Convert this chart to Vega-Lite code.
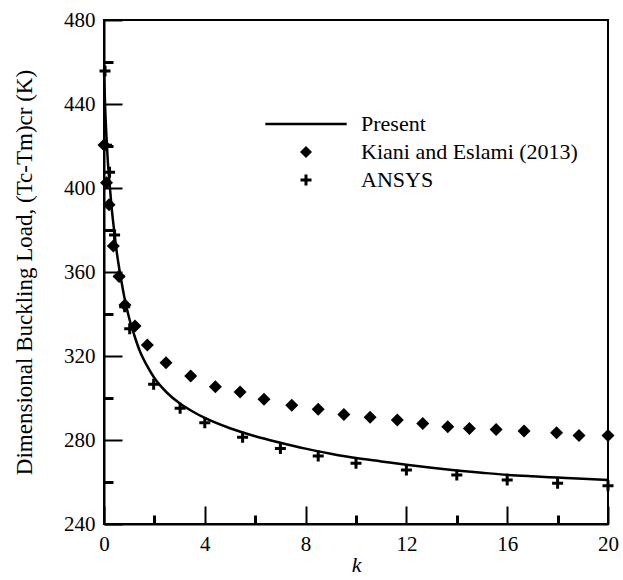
{
  "$schema": "https://vega.github.io/schema/vega-lite/v6.json",
  "width": 504,
  "height": 504,
  "autosize": {"type": "none"},
  "padding": {"left": 104, "top": 20, "right": 15, "bottom": 56},
  "background": "white",
  "config": {
    "view": {"stroke": "black", "strokeWidth": 2},
    "font": "Liberation Serif",
    "legend": {"labelFont": "Liberation Serif", "labelFontSize": 22, "labelColor": "black", "padding": 0, "rowPadding": 6, "labelOffset": 44, "labelLimit": 400}
  },
  "datasets": {
    "present": [
      {"k": 0, "T": 455.5}, {"k": 0.05, "T": 437}, {"k": 0.1, "T": 424}, {"k": 0.15, "T": 413}, {"k": 0.2, "T": 405},
      {"k": 0.3, "T": 391}, {"k": 0.4, "T": 380}, {"k": 0.5, "T": 370}, {"k": 0.6, "T": 362}, {"k": 0.7, "T": 355},
      {"k": 0.8, "T": 348.5}, {"k": 0.9, "T": 343}, {"k": 1.0, "T": 338}, {"k": 1.2, "T": 330}, {"k": 1.4, "T": 323},
      {"k": 1.7, "T": 315.5}, {"k": 2.0, "T": 309.5}, {"k": 2.5, "T": 302.5}, {"k": 3, "T": 297.5}, {"k": 3.5, "T": 293.7},
      {"k": 4, "T": 290.5}, {"k": 5, "T": 285.6}, {"k": 6, "T": 281.8}, {"k": 7, "T": 278.7}, {"k": 8, "T": 275.9},
      {"k": 9, "T": 273.5}, {"k": 10, "T": 271.4}, {"k": 11, "T": 269.8}, {"k": 12, "T": 268.2}, {"k": 13, "T": 266.8},
      {"k": 14, "T": 265.5}, {"k": 15, "T": 264.4}, {"k": 16, "T": 263.4}, {"k": 17, "T": 262.7}, {"k": 18, "T": 262.1},
      {"k": 19, "T": 261.5}, {"k": 20, "T": 261}
    ],
    "kiani": [
      {"k": 0, "T": 420.5}, {"k": 0.1, "T": 402.5}, {"k": 0.2, "T": 392}, {"k": 0.37, "T": 372.4},
      {"k": 0.6, "T": 357.8}, {"k": 0.83, "T": 344.3}, {"k": 1.23, "T": 334.3}, {"k": 1.72, "T": 325.2},
      {"k": 2.46, "T": 316.8}, {"k": 3.44, "T": 310.5}, {"k": 4.42, "T": 305.4}, {"k": 5.4, "T": 302.9},
      {"k": 6.35, "T": 299.4}, {"k": 7.45, "T": 296.5}, {"k": 8.5, "T": 294.6}, {"k": 9.52, "T": 292.1},
      {"k": 10.56, "T": 290.8}, {"k": 11.64, "T": 289.5}, {"k": 12.65, "T": 287.9}, {"k": 13.64, "T": 286.3},
      {"k": 14.5, "T": 285.5}, {"k": 15.56, "T": 285.0}, {"k": 16.67, "T": 284.3}, {"k": 17.96, "T": 283.5},
      {"k": 18.85, "T": 282.1}, {"k": 20, "T": 282.1}
    ],
    "ansys": [
      {"k": 0.04, "T": 455.7}, {"k": 0.1, "T": 420.4}, {"k": 0.22, "T": 407.5}, {"k": 0.42, "T": 377.6},
      {"k": 0.6, "T": 358}, {"k": 0.82, "T": 343.5}, {"k": 1.02, "T": 333}, {"k": 1.97, "T": 306.5},
      {"k": 3.02, "T": 295.1}, {"k": 4.0, "T": 288.2}, {"k": 5.5, "T": 281.3}, {"k": 7.0, "T": 276.0},
      {"k": 8.5, "T": 272.4}, {"k": 10.0, "T": 268.9}, {"k": 12.0, "T": 265.7}, {"k": 14.0, "T": 263.3},
      {"k": 16.0, "T": 261.0}, {"k": 18.0, "T": 259.4}, {"k": 20.0, "T": 258.2}
    ]
  },
  "layer": [
    {
      "data": {"name": "present"},
      "mark": {"type": "line", "strokeWidth": 2.5, "interpolate": "monotone", "clip": false},
      "encoding": {
        "x": {"field": "k", "type": "quantitative", "scale": {"domain": [0, 20], "nice": false, "zero": false},
          "axis": {"orient": "bottom", "values": [0, 4, 8, 12, 16, 20], "grid": false, "ticks": false, "domainColor": "black", "domainWidth": 2, "labelPadding": 9, "labelFont": "Liberation Serif", "labelFontSize": 21, "labelColor": "black", "labelFlush": false, "title": "k", "titleFont": "Liberation Serif", "titleFontSize": 22, "titleFontStyle": "italic", "titleFontWeight": "normal", "titleColor": "black", "titlePadding": 0}},
        "y": {"field": "T", "type": "quantitative", "scale": {"domain": [240, 480], "nice": false, "zero": false},
          "axis": {"orient": "left", "values": [240, 280, 320, 360, 400, 440, 480], "grid": false, "ticks": false, "domainColor": "black", "domainWidth": 2, "labelPadding": 9, "labelFont": "Liberation Serif", "labelFontSize": 21, "labelColor": "black", "labelFlush": false, "title": "Dimensional Buckling Load, (Tc-Tm)cr (K)", "titleFont": "Liberation Serif", "titleFontSize": 23, "titleFontWeight": "normal", "titleColor": "black", "titlePadding": 27}},
        "stroke": {"datum": "Present", "scale": {"range": ["black"]},
          "legend": {"title": null, "orient": "none", "legendX": 191, "legendY": 93, "symbolType": "M-7.4,0H7.4", "symbolSize": 121, "symbolStrokeWidth": 2.5}}
      }
    },
    {
      "data": {"name": "kiani"},
      "mark": {"type": "point", "filled": true, "shape": "diamond", "strokeWidth": 0, "opacity": 1, "size": 169, "clip": false},
      "encoding": {
        "x": {"field": "k", "type": "quantitative", "scale": {"domain": [0, 20], "nice": false, "zero": false},
          "axis": {"orient": "top", "offset": -504, "values": [0, 4, 8, 12, 16, 20], "tickSize": 18, "tickWidth": 2, "tickColor": "black", "grid": false, "domain": false, "labels": false, "title": null}},
        "y": {"field": "T", "type": "quantitative", "scale": {"domain": [240, 480], "nice": false, "zero": false},
          "axis": {"orient": "right", "offset": -504, "values": [240, 280, 320, 360, 400, 440, 480], "tickSize": 18, "tickWidth": 2, "tickColor": "black", "grid": false, "domain": false, "labels": false, "title": null}},
        "fill": {"datum": "Kiani and Eslami (2013)", "scale": {"range": ["black"]},
          "legend": {"title": null, "orient": "none", "legendX": 191, "legendY": 121, "symbolType": "diamond", "symbolSize": 144}}
      }
    },
    {
      "data": {"name": "ansys"},
      "mark": {"type": "point", "filled": false, "shape": "M-1,0H1M0,-1V1", "strokeWidth": 3, "opacity": 1, "size": 121, "clip": false},
      "encoding": {
        "x": {"field": "k", "type": "quantitative", "scale": {"domain": [0, 20], "nice": false, "zero": false},
          "axis": {"orient": "bottom", "values": [2, 6, 10, 14, 18], "tickSize": -9, "tickWidth": 3, "tickColor": "black", "gridOpacity": 0, "domainOpacity": 0, "labelOpacity": 0, "title": null}},
        "y": {"field": "T", "type": "quantitative", "scale": {"domain": [240, 480], "nice": false, "zero": false},
          "axis": {"orient": "left", "values": [260, 300, 340, 380, 420, 460], "tickSize": -9, "tickWidth": 3, "tickColor": "black", "gridOpacity": 0, "domainOpacity": 0, "labelOpacity": 0, "title": null}},
        "color": {"datum": "ANSYS", "scale": {"range": ["black"]},
          "legend": {"title": null, "orient": "none", "legendX": 191, "legendY": 149, "symbolType": "M-1,0H1M0,-1V1", "symbolSize": 121, "symbolStrokeWidth": 3}}
      }
    }
  ],
  "resolve": {"scale": {"x": "independent", "y": "independent"}, "axis": {"x": "independent", "y": "independent"}}
}
